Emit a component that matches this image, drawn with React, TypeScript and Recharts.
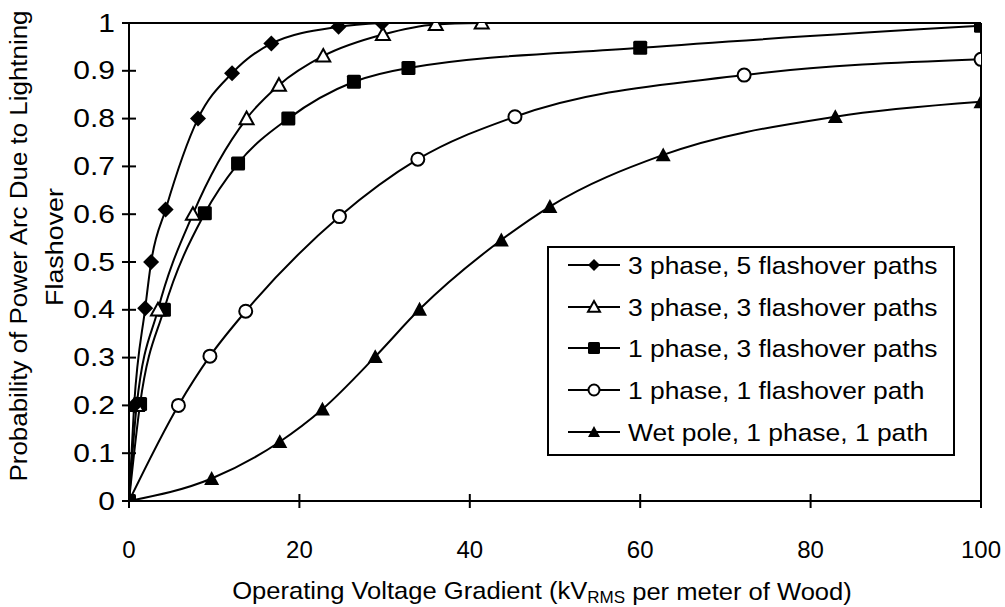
import React from 'react';
import { LineChart, Line, XAxis, YAxis, ReferenceLine } from 'recharts';

const FONT = '"Liberation Sans", Arial, Helvetica, sans-serif';

const xTicks = [0, 20, 40, 60, 80, 100];
const yTicks = [0, 0.1, 0.2, 0.3, 0.4, 0.5, 0.6, 0.7, 0.8, 0.9, 1];

const seriesNames = [
  '3 phase, 5 flashover paths',
  '3 phase, 3 flashover paths',
  '1 phase, 3 flashover paths',
  '1 phase, 1 flashover path',
  'Wet pole, 1 phase, 1 path',
];

// 3 phase, 5 flashover paths (diamonds)
const s1X = [0, 0.6, 1.9, 2.6, 4.3, 8.1, 12.1, 16.7, 24.6, 29.7];
const s1Y = [0, 0.2, 0.403, 0.5, 0.61, 0.8, 0.895, 0.957, 0.992, 1.0];
// 3 phase, 3 flashover paths (open triangles)
const s2X = [0, 0.9, 3.4, 7.5, 13.8, 17.6, 22.8, 29.8, 36.0, 41.4];
const s2Y = [0, 0.2, 0.4, 0.6, 0.8, 0.87, 0.931, 0.976, 0.997, 1.0];
// 1 phase, 3 flashover paths (filled squares)
const s3X = [0, 1.3, 4.1, 8.9, 12.8, 18.7, 26.4, 32.8, 60.0, 100];
const s3Y = [0, 0.203, 0.4, 0.602, 0.706, 0.8, 0.877, 0.906, 0.948, 0.994];
// 1 phase, 1 flashover path (open circles)
const s4X = [0, 5.8, 9.5, 13.7, 24.7, 33.9, 45.3, 72.2, 100];
const s4Y = [0, 0.2, 0.303, 0.397, 0.595, 0.715, 0.804, 0.891, 0.924];
// Wet pole, 1 phase, 1 path (filled triangles)
const s5X = [0, 9.7, 17.7, 22.7, 28.9, 34.1, 43.7, 49.4, 62.7, 82.9, 100];
const s5Y = [0, 0.047, 0.124, 0.192, 0.302, 0.401, 0.546, 0.616, 0.724, 0.804, 0.835];

const toData = (xs: number[], ys: number[]) => xs.map((x, i) => ({ x, y: ys[i] }));
const d1 = toData(s1X, s1Y);
const d2 = toData(s2X, s2Y);
const d3 = toData(s3X, s3Y);
const d4 = toData(s4X, s4Y);
const d5 = toData(s5X, s5Y);

type MP = { cx: number; cy: number; s?: number };

const Diamond = ({ cx, cy, s = 8 }: MP) => (
  <path d={`M${cx},${cy - s}L${cx + s},${cy}L${cx},${cy + s}L${cx - s},${cy}Z`} fill="#000" />
);
const OpenTri = ({ cx, cy, s = 7 }: MP) => (
  <path
    d={`M${cx},${cy - s}L${cx + s},${cy + s * 0.8}L${cx - s},${cy + s * 0.8}Z`}
    fill="#fff"
    stroke="#000"
    strokeWidth={2}
    strokeLinejoin="miter"
  />
);
const FillTri = ({ cx, cy, s = 7.5 }: MP) => (
  <path d={`M${cx},${cy - s}L${cx + s},${cy + s * 0.85}L${cx - s},${cy + s * 0.85}Z`} fill="#000" />
);
const Square = ({ cx, cy, s = 7 }: MP) => (
  <rect x={cx - s} y={cy - s} width={2 * s} height={2 * s} rx={1.5} fill="#000" />
);
const Circle = ({ cx, cy, s = 6.5 }: MP) => (
  <circle cx={cx} cy={cy} r={s} fill="#fff" stroke="#000" strokeWidth={2} />
);

const markers = [Diamond, OpenTri, Square, Circle, FillTri];

const mkDot = (M: any, tag: string) => (p: any) => (
  <M key={`${tag}${p.index}`} cx={p.cx} cy={p.cy} />
);

const XTick = (p: any) => {
  const { x, y, payload } = p;
  return (
    <g>
      <line x1={x} x2={x} y1={y - 7} y2={y + 7} stroke="#000" strokeWidth={2} />
      <text x={x} y={y + 48} textAnchor="middle" dominantBaseline="central" fontSize={24} fontFamily={FONT} fill="#000">
        {String(payload.value)}
      </text>
    </g>
  );
};

const YTick = (p: any) => {
  const { x, y, payload } = p;
  return (
    <g>
      <line x1={x - 7} x2={x + 7} y1={y} y2={y} stroke="#000" strokeWidth={2} />
      <text
        transform={`translate(${x - 14},${y}) scale(1.2,1)`}
        textAnchor="end"
        dominantBaseline="central"
        fontSize={25}
        fontFamily={FONT}
        fill="#000"
      >
        {String(payload.value)}
      </text>
    </g>
  );
};

const XTitle = () => (
  <text
    transform="translate(542,591) scale(1.065,1)"
    textAnchor="middle"
    dominantBaseline="central"
    fontSize={24}
    fontFamily={FONT}
    fill="#000"
  >
    Operating Voltage Gradient (kV
    <tspan fontSize={16} dy={6}>RMS</tspan>
    <tspan dy={-6}> per meter of Wood)</tspan>
  </text>
);

const YTitle = () => (
  <g fontFamily={FONT} fontSize={24} fill="#000">
    <text transform="translate(27,246) rotate(-90) scale(1.08,1)" textAnchor="middle">
      Probability of Power Arc Due to Lightning
    </text>
    <text transform="translate(63,247) rotate(-90) scale(1.12,1)" textAnchor="middle">
      Flashover
    </text>
  </g>
);

const LegendBox = () => {
  const rows = [19, 61, 102, 144, 186];
  return (
    <div style={{ position: 'absolute', left: 547, top: 246, width: 408, height: 210 }}>
      <svg width={408} height={210}>
        <rect x={1} y={1} width={406} height={208} fill="#fff" stroke="#000" strokeWidth={2} />
        {seriesNames.map((name, i) => {
          const M = markers[i];
          const cy = rows[i];
          return (
            <g key={name}>
              <line x1={21} x2={73} y1={cy} y2={cy} stroke="#000" strokeWidth={2} />
              <M cx={47} cy={cy} s={i === 3 ? 5.5 : 6} />
              <text
                transform={`translate(81,${cy}) scale(1.1,1)`}
                dominantBaseline="central"
                fontSize={24}
                fontFamily={FONT}
                fill="#000"
              >
                {name}
              </text>
            </g>
          );
        })}
      </svg>
    </div>
  );
};

export default function App() {
  const datas = [d5, d4, d3, d2, d1];
  const idx = [4, 3, 2, 1, 0];
  return (
    <div style={{ position: 'absolute', left: 0, top: 0, width: 1005, height: 607, background: '#fff' }}>
      <LineChart width={1005} height={607} margin={{ top: 23, right: 24, bottom: 76, left: 69 }}>
        <XAxis
          type="number"
          dataKey="x"
          domain={[0, 100]}
          ticks={xTicks}
          interval={0}
          allowDataOverflow
          tick={XTick}
          tickLine={false}
          tickSize={0}
          tickMargin={0}
          height={30}
          axisLine={{ stroke: '#000', strokeWidth: 2 }}
          label={XTitle}
        />
        <YAxis
          type="number"
          dataKey="y"
          domain={[0, 1]}
          ticks={yTicks}
          interval={0}
          allowDataOverflow
          tick={YTick}
          tickLine={false}
          tickSize={0}
          tickMargin={0}
          width={60}
          axisLine={{ stroke: '#000', strokeWidth: 2 }}
          label={YTitle}
        />
        <ReferenceLine y={1} stroke="#000" strokeWidth={2} />
        <ReferenceLine x={100} stroke="#000" strokeWidth={2} />
        {datas.map((d, k) => (
          <Line
            key={seriesNames[idx[k]]}
            data={d}
            dataKey="y"
            name={seriesNames[idx[k]]}
            type="monotone"
            stroke="#000"
            strokeWidth={2}
            dot={mkDot(markers[idx[k]], `m${k}_`)}
            activeDot={false}
            isAnimationActive={false}
          />
        ))}
      </LineChart>
      <LegendBox />
    </div>
  );
}
